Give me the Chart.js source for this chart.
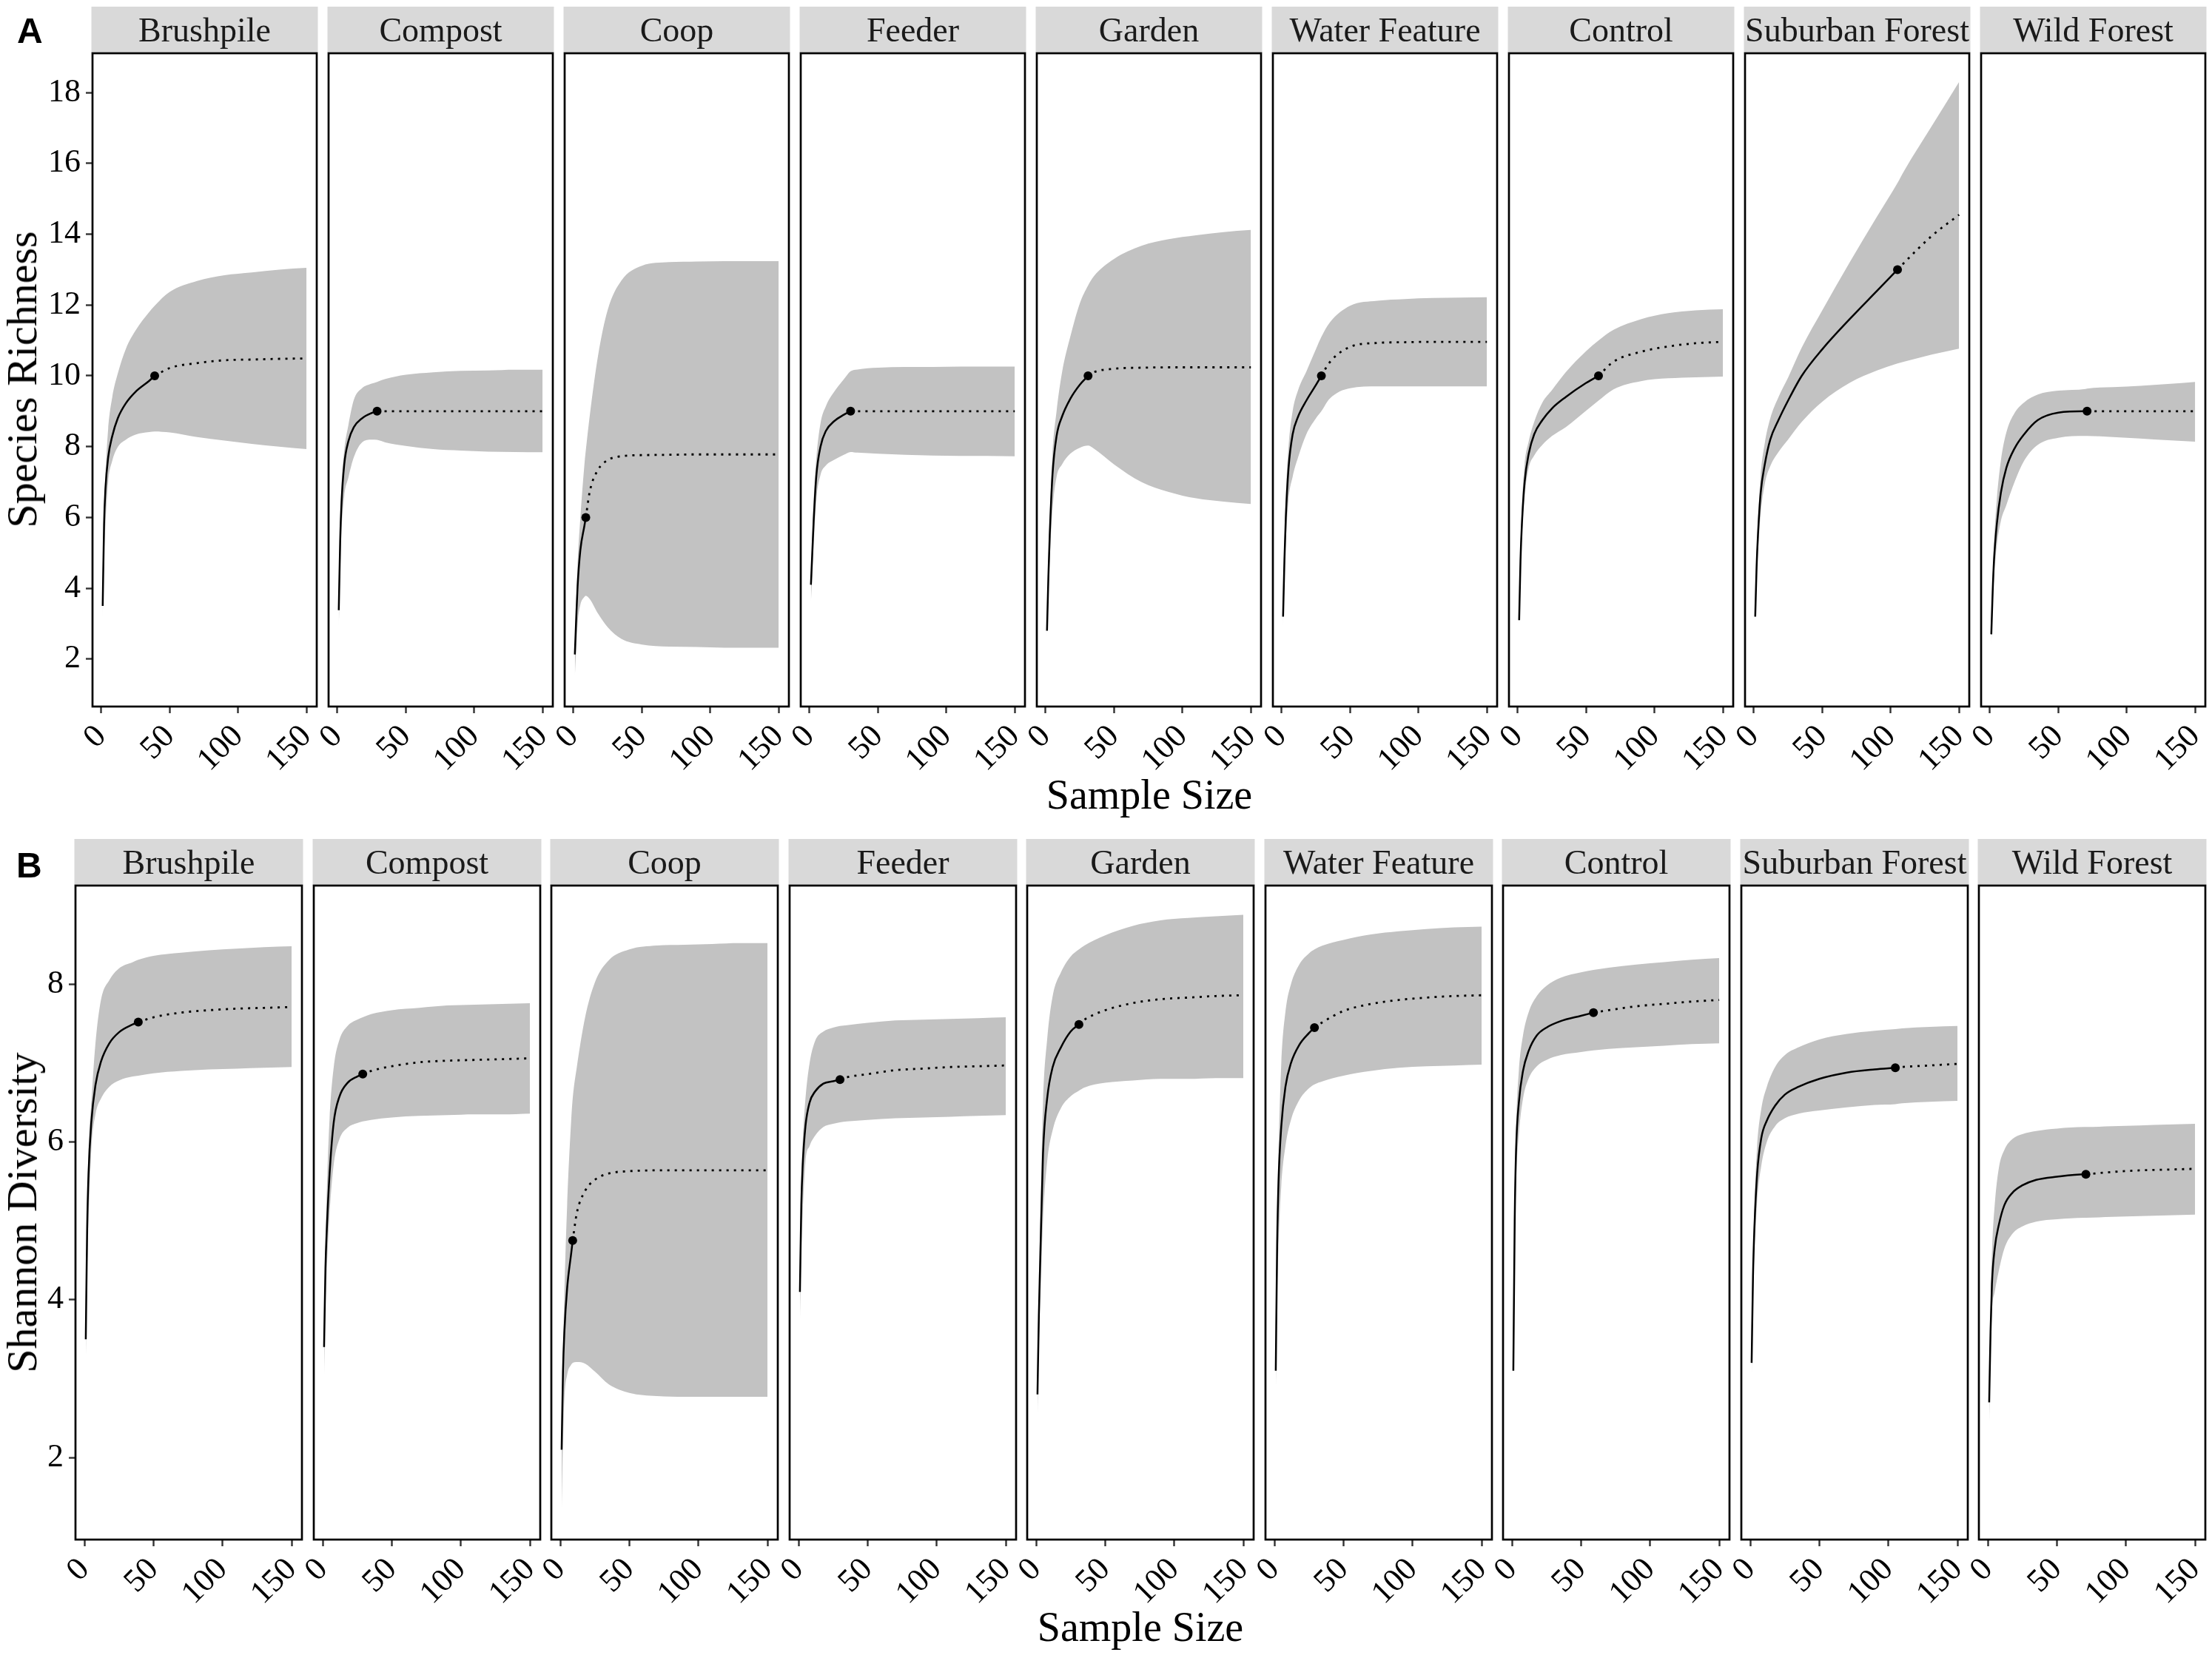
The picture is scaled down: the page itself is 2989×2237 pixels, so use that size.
<!DOCTYPE html>
<html>
<head>
<meta charset="utf-8">
<script src="https://cdn.jsdelivr.net/npm/chart.js@4.4.1/dist/chart.umd.min.js"></script>
<style>
  body { margin: 0; background: #fff; width: 2989px; height: 2237px; position: relative; overflow: hidden; }
  canvas { position: absolute; }
  .txt { position: absolute; white-space: nowrap; color: #000; font-family: "Liberation Serif", "Times New Roman", serif; }
  .tag { position: absolute; color: #000; font: bold 48px "Liberation Sans", Arial, sans-serif; line-height: 48px; }
</style>
</head>
<body>

<script>
// sites, sample sizes and the observed sample size of each site
const sites = ['Brushpile', 'Compost', 'Coop', 'Feeder', 'Garden', 'Water Feature', 'Control', 'Suburban Forest', 'Wild Forest'];
const baseSizes = [1, 2, 3, 5, 8, 12, 18, 25, 35, 50, 70, 90, 110, 130, 150];
const observedSize = [39, 29, 9, 30, 31, 29, 59, 105, 71];

// tick labels
const sizeTicks = [0, 50, 100, 150];
const richnessTicks = [2, 4, 6, 8, 10, 12, 14, 16, 18];
const shannonTicks = [2, 4, 6, 8];

// species richness (one row per site, values at the merged sample sizes)
const richnessEst = [
  [3.5, 5.8, 6.8, 7.7, 8.3, 8.8, 9.23, 9.55, 9.86, 10.0, 10.22, 10.36, 10.44, 10.46, 10.48, 10.49],
  [3.38, 5.3, 6.4, 7.5, 8.15, 8.55, 8.8, 8.95, 9.0, 9.0, 9.0, 9.0, 9.0, 9.0, 9.0, 9.0],
  [2.13, 3.15, 4.05, 5.07, 5.77, 6.0, 6.75, 7.35, 7.62, 7.73, 7.76, 7.77, 7.78, 7.78, 7.78, 7.78],
  [4.1, 5.0, 5.9, 7.2, 8.0, 8.45, 8.72, 8.9, 9.0, 9.0, 9.0, 9.0, 9.0, 9.0, 9.0, 9.0],
  [2.8, 4.3, 5.5, 7.2, 8.3, 8.85, 9.35, 9.75, 10.0, 10.1, 10.2, 10.23, 10.24, 10.24, 10.24, 10.24],
  [3.2, 4.8, 6.0, 7.4, 8.35, 8.85, 9.3, 9.74, 10.0, 10.38, 10.82, 10.93, 10.95, 10.96, 10.96, 10.96],
  [3.1, 4.8, 5.8, 7.0, 7.8, 8.35, 8.75, 9.08, 9.4, 9.8, 10.0, 10.4, 10.68, 10.83, 10.92, 10.96],
  [3.2, 4.6, 5.5, 6.7, 7.5, 8.2, 8.75, 9.3, 10.0, 10.75, 11.6, 12.4, 13.0, 13.2, 13.95, 14.55],
  [2.7, 3.9, 4.8, 5.8, 6.7, 7.4, 7.95, 8.35, 8.75, 8.96, 9.0, 9.0, 9.0, 9.0, 9.0, 9.0]
];
const richnessUpper = [
  [3.8, 6.2, 7.2, 8.5, 9.4, 10.06, 10.77, 11.28, 11.8, 11.98, 12.37, 12.68, 12.84, 12.92, 13.0, 13.05],
  [3.6, 5.8, 6.9, 7.9, 8.6, 9.32, 9.65, 9.78, 9.83, 9.91, 10.03, 10.1, 10.14, 10.15, 10.17, 10.17],
  [2.3, 3.6, 4.7, 5.97, 7.5, 7.89, 8.91, 10.58, 11.86, 12.69, 13.11, 13.21, 13.23, 13.24, 13.24, 13.24],
  [4.3, 5.5, 6.5, 7.7, 8.66, 9.15, 9.55, 9.9, 10.13, 10.18, 10.23, 10.25, 10.25, 10.26, 10.26, 10.26],
  [3.0, 4.8, 6.0, 7.8, 9.0, 10.1, 11.1, 12.05, 12.55, 12.8, 13.3, 13.67, 13.86, 13.97, 14.06, 14.12],
  [3.4, 5.3, 6.6, 8.0, 9.0, 9.6, 10.12, 10.75, 11.1, 11.5, 11.98, 12.12, 12.17, 12.2, 12.21, 12.22],
  [3.3, 5.2, 6.3, 7.5, 8.15, 8.7, 9.25, 9.6, 10.1, 10.7, 11.0, 11.3, 11.6, 11.77, 11.85, 11.88],
  [3.3, 4.9, 5.9, 7.2, 8.1, 8.8, 9.4, 9.95, 10.8, 11.85, 13.2, 14.5, 15.45, 15.8, 17.05, 18.3],
  [2.9, 4.3, 5.3, 6.5, 7.6, 8.4, 8.95, 9.25, 9.47, 9.58, 9.63, 9.64, 9.68, 9.72, 9.77, 9.83]
];
const richnessLower = [
  [3.0, 4.9, 5.8, 7.0, 7.6, 7.99, 8.2, 8.34, 8.41, 8.43, 8.4, 8.27, 8.17, 8.08, 8.0, 7.93],
  [2.9, 4.4, 5.6, 6.6, 7.12, 7.7, 8.12, 8.2, 8.19, 8.12, 8.02, 7.93, 7.89, 7.86, 7.85, 7.84],
  [1.5, 2.3, 3.0, 3.53, 3.76, 3.79, 3.69, 3.28, 2.9, 2.57, 2.41, 2.35, 2.34, 2.32, 2.32, 2.32],
  [3.6, 4.4, 5.2, 6.5, 7.2, 7.47, 7.63, 7.77, 7.85, 7.83, 7.8, 7.77, 7.75, 7.74, 7.74, 7.73],
  [2.6, 3.8, 4.8, 6.2, 7.15, 7.5, 7.8, 7.97, 8.03, 7.95, 7.5, 7.0, 6.72, 6.54, 6.45, 6.38],
  [2.9, 4.4, 5.3, 6.5, 7.15, 7.7, 8.35, 8.8, 9.0, 9.35, 9.65, 9.7, 9.7, 9.7, 9.7, 9.7],
  [2.9, 4.4, 5.4, 6.6, 7.4, 7.75, 8.05, 8.3, 8.55, 9.02, 9.3, 9.62, 9.85, 9.93, 9.96, 9.98],
  [3.0, 4.2, 5.0, 6.1, 6.95, 7.45, 7.85, 8.2, 8.7, 9.27, 9.8, 10.15, 10.35, 10.4, 10.6, 10.77],
  [2.4, 3.5, 4.3, 5.2, 5.9, 6.35, 7.0, 7.6, 8.05, 8.25, 8.3, 8.3, 8.27, 8.23, 8.18, 8.14]
];

// shannon diversity
const shannonEst = [
  [3.5, 4.9, 5.6, 6.25, 6.72, 7.02, 7.25, 7.39, 7.49, 7.52, 7.58, 7.64, 7.67, 7.69, 7.7, 7.71],
  [3.4, 4.4, 4.9, 5.6, 6.25, 6.57, 6.75, 6.83, 6.86, 6.9, 6.96, 7.01, 7.03, 7.04, 7.05, 7.06],
  [2.1, 3.1, 3.6, 4.15, 4.6, 4.75, 5.1, 5.38, 5.52, 5.6, 5.63, 5.64, 5.64, 5.64, 5.64, 5.64],
  [4.1, 5.2, 5.7, 6.2, 6.5, 6.64, 6.74, 6.77, 6.79, 6.82, 6.86, 6.91, 6.93, 6.95, 6.96, 6.97],
  [2.8, 3.8, 4.5, 5.85, 6.55, 6.95, 7.2, 7.4, 7.49, 7.55, 7.67, 7.76, 7.81, 7.83, 7.85, 7.86],
  [3.1, 4.7, 5.5, 6.2, 6.7, 7.0, 7.23, 7.38, 7.45, 7.52, 7.66, 7.75, 7.8, 7.83, 7.85, 7.86],
  [3.1, 5.0, 5.9, 6.5, 6.9, 7.15, 7.35, 7.45, 7.53, 7.6, 7.64, 7.67, 7.72, 7.75, 7.78, 7.8],
  [3.2, 4.3, 4.9, 5.6, 6.05, 6.27, 6.46, 6.6, 6.7, 6.8, 6.88, 6.92, 6.94, 6.95, 6.97, 6.99],
  [2.7, 3.6, 4.2, 4.65, 4.95, 5.2, 5.36, 5.45, 5.52, 5.56, 5.59, 5.59, 5.62, 5.64, 5.65, 5.66]
];
const shannonUpper = [
  [3.6, 5.1, 5.9, 6.5, 7.25, 7.8, 8.05, 8.2, 8.28, 8.31, 8.36, 8.4, 8.43, 8.45, 8.47, 8.48],
  [3.5, 4.7, 5.4, 6.3, 6.95, 7.29, 7.47, 7.55, 7.58, 7.62, 7.67, 7.7, 7.73, 7.74, 7.75, 7.76],
  [2.2, 3.3, 4.1, 5.2, 6.3, 6.55, 6.95, 7.58, 8.02, 8.3, 8.44, 8.49, 8.5, 8.51, 8.52, 8.52],
  [4.3, 5.5, 6.0, 6.55, 7.0, 7.28, 7.4, 7.45, 7.47, 7.48, 7.51, 7.54, 7.55, 7.56, 7.57, 7.58],
  [2.9, 4.2, 5.0, 6.5, 7.3, 7.85, 8.15, 8.35, 8.44, 8.49, 8.62, 8.74, 8.81, 8.84, 8.86, 8.88],
  [3.2, 5.0, 5.9, 7.0, 7.65, 8.0, 8.25, 8.39, 8.44, 8.49, 8.56, 8.63, 8.67, 8.7, 8.72, 8.73],
  [3.2, 5.3, 6.2, 6.9, 7.35, 7.64, 7.85, 7.98, 8.08, 8.15, 8.18, 8.21, 8.25, 8.28, 8.31, 8.33],
  [3.3, 4.5, 5.2, 5.95, 6.42, 6.7, 6.95, 7.1, 7.2, 7.3, 7.37, 7.41, 7.43, 7.44, 7.46, 7.47],
  [2.8, 3.9, 4.6, 5.2, 5.67, 5.9, 6.04, 6.1, 6.14, 6.17, 6.19, 6.19, 6.2, 6.21, 6.22, 6.23]
];
const shannonLower = [
  [3.1, 4.3, 5.0, 5.9, 6.35, 6.55, 6.7, 6.78, 6.83, 6.84, 6.87, 6.9, 6.92, 6.93, 6.94, 6.95],
  [3.0, 3.9, 4.4, 5.1, 5.72, 6.03, 6.18, 6.24, 6.26, 6.28, 6.31, 6.33, 6.34, 6.35, 6.35, 6.36],
  [1.3, 2.2, 2.75, 3.05, 3.18, 3.2, 3.21, 3.19, 3.09, 2.93, 2.82, 2.78, 2.77, 2.77, 2.77, 2.77],
  [3.7, 4.6, 5.1, 5.75, 5.95, 6.08, 6.19, 6.23, 6.25, 6.26, 6.28, 6.3, 6.31, 6.32, 6.33, 6.34],
  [2.5, 3.4, 4.0, 5.0, 5.75, 6.15, 6.43, 6.58, 6.65, 6.69, 6.75, 6.78, 6.8, 6.8, 6.81, 6.81],
  [2.7, 4.0, 4.7, 5.45, 5.95, 6.28, 6.53, 6.68, 6.73, 6.77, 6.84, 6.9, 6.94, 6.96, 6.97, 6.98],
  [2.8, 4.6, 5.5, 6.1, 6.55, 6.8, 6.96, 7.04, 7.1, 7.14, 7.16, 7.18, 7.2, 7.22, 7.24, 7.25],
  [3.0, 4.0, 4.6, 5.25, 5.7, 6.0, 6.2, 6.3, 6.36, 6.4, 6.44, 6.47, 6.48, 6.49, 6.51, 6.52],
  [2.4, 3.3, 3.85, 4.1, 4.37, 4.65, 4.84, 4.93, 4.99, 5.02, 5.04, 5.04, 5.05, 5.06, 5.07, 5.08]
];

const RIBBON = '#c2c2c2';
const STRIP_FILL = '#d9d9d9';
const STRIP = 63, BOTTOM = 120, SIDE = 60, RIGHT = 14;
const TICK_FONT = { family: 'Liberation Serif', size: 44 };

const rows = [
  { est: richnessEst, hi: richnessUpper, lo: richnessLower, yTicks: richnessTicks, yMin: 0.66, yMax: 19.11,
    top: 72, height: 883, left: 125, step: 319, width: 303 },
  { est: shannonEst, hi: shannonUpper, lo: shannonLower, yTicks: shannonTicks, yMin: 0.96, yMax: 9.25,
    top: 1197, height: 884, left: 102, step: 321.5, width: 306 }
];

// sample sizes of one site: the common grid plus its observed size
function sizesFor(i) {
  return baseSizes.concat(observedSize[i]).sort((a, b) => a - b);
}

// strip on top and black frame round the panel
const facetPlugin = {
  id: 'facet',
  beforeDraw(chart, args, opts) {
    const { ctx, chartArea: a } = chart;
    ctx.save();
    ctx.fillStyle = STRIP_FILL;
    ctx.fillRect(a.left - 1.5, a.top - STRIP, a.right - a.left + 3, STRIP);
    ctx.fillStyle = '#1a1a1a';
    ctx.font = '46px "Liberation Serif"';
    ctx.textAlign = 'center';
    ctx.textBaseline = 'alphabetic';
    ctx.fillText(opts.title, (a.left + a.right) / 2, a.top - 16);
    ctx.restore();
  },
  afterDatasetsDraw(chart) {
    const { ctx, chartArea: a } = chart;
    ctx.save();
    ctx.strokeStyle = '#000';
    ctx.lineWidth = 2.7;
    ctx.strokeRect(a.left, a.top, a.right - a.left, a.bottom - a.top);
    ctx.restore();
  }
};

function makePanel(row, i) {
  const first = i === 0;
  const padL = first ? row.left : SIDE;
  const panelLeft = Math.round(row.left + row.step * i);
  const canvas = document.createElement('canvas');
  canvas.width = padL + row.width + RIGHT;
  canvas.height = STRIP + row.height + BOTTOM;
  canvas.style.left = (panelLeft - padL) + 'px';
  canvas.style.top = (row.top - STRIP) + 'px';
  document.body.appendChild(canvas);

  const xs = sizesFor(i);
  const obs = observedSize[i];
  const pts = arr => xs.map((x, k) => ({ x: x, y: arr[k] }));
  const est = pts(row.est[i]);
  const solid = est.filter(p => p.x <= obs);
  const dotted = est.filter(p => p.x >= obs);
  const obsPoint = est.filter(p => p.x === obs);

  new Chart(canvas, {
    type: 'line',
    data: {
      datasets: [
        { data: pts(row.hi[i]), fill: '+1', backgroundColor: RIBBON, borderColor: 'rgba(0,0,0,0)', borderWidth: 0,
          pointRadius: 0, cubicInterpolationMode: 'monotone', order: 3 },
        { data: pts(row.lo[i]), fill: false, borderColor: 'rgba(0,0,0,0)', borderWidth: 0,
          pointRadius: 0, cubicInterpolationMode: 'monotone', order: 3 },
        { data: solid, fill: false, borderColor: '#000', borderWidth: 2.5,
          pointRadius: 0, cubicInterpolationMode: 'monotone', order: 1 },
        { data: dotted, fill: false, borderColor: '#000', borderWidth: 2.8, borderDash: [3, 7],
          pointRadius: 0, cubicInterpolationMode: 'monotone', order: 1 },
        { data: obsPoint, showLine: false, pointRadius: 6, pointBackgroundColor: '#000',
          pointBorderWidth: 0, borderColor: '#000', order: 0 }
      ]
    },
    options: {
      responsive: false,
      animation: false,
      events: [],
      devicePixelRatio: 1,
      layout: { padding: { left: first ? 0 : padL, right: RIGHT, top: STRIP, bottom: 0 } },
      plugins: {
        legend: { display: false },
        tooltip: { enabled: false },
        facet: { title: sites[i] }
      },
      scales: {
        x: {
          type: 'linear',
          min: -6.45,
          max: 157.45,
          afterBuildTicks: s => { s.ticks = sizeTicks.map(v => ({ value: v })); },
          afterFit: s => { s.height = BOTTOM; s.paddingLeft = 0; s.paddingRight = 0; },
          border: { display: false },
          grid: { drawOnChartArea: false, drawTicks: true, tickLength: 9, tickWidth: 2.4, tickColor: '#333' },
          ticks: { autoSkip: false, minRotation: 45, maxRotation: 45, padding: 6, color: '#000', font: TICK_FONT }
        },
        y: {
          type: 'linear',
          display: first,
          min: row.yMin,
          max: row.yMax,
          afterBuildTicks: s => { s.ticks = row.yTicks.map(v => ({ value: v })); },
          afterFit: s => { s.width = first ? padL : 0; s.paddingTop = 0; s.paddingBottom = 0; },
          border: { display: false },
          grid: { drawOnChartArea: false, drawTicks: true, tickLength: 9, tickWidth: 2.4, tickColor: '#333' },
          ticks: { padding: 7, color: '#000', font: TICK_FONT }
        }
      }
    },
    plugins: [facetPlugin]
  });
}

rows.forEach(row => sites.forEach((s, i) => makePanel(row, i)));

// axis titles and panel tags as page text
function addText(cls, text, css) {
  const d = document.createElement('div');
  d.className = cls;
  d.textContent = text;
  Object.assign(d.style, css);
  document.body.appendChild(d);
}
addText('tag', 'A', { left: '23px', top: '18px' });
addText('tag', 'B', { left: '22px', top: '1146px' });
addText('txt', 'Species Richness', { left: '30px', top: '513px', fontSize: '58px', lineHeight: '58px',
  transform: 'translate(-50%, -50%) rotate(-90deg)' });
addText('txt', 'Shannon Diversity', { left: '30px', top: '1639px', fontSize: '58px', lineHeight: '58px',
  transform: 'translate(-50%, -50%) rotate(-90deg)' });
addText('txt', 'Sample Size', { left: '1553px', top: '1074px', fontSize: '56px', lineHeight: '56px',
  transform: 'translate(-50%, -50%)' });
addText('txt', 'Sample Size', { left: '1541px', top: '2199px', fontSize: '56px', lineHeight: '56px',
  transform: 'translate(-50%, -50%)' });
</script>
</body>
</html>
